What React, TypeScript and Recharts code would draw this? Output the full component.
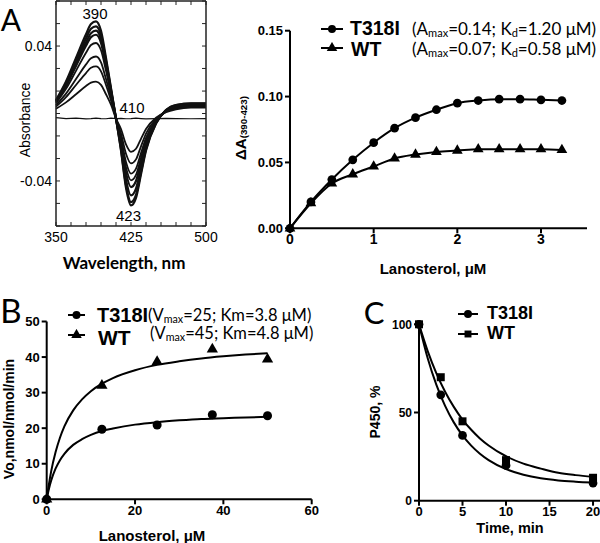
import React from 'react';
import { LineChart, Line, XAxis, YAxis, ComposedChart, Scatter, Symbols, ReferenceDot } from 'recharts';

// ---------- Panel A (left): difference spectra ----------
const wavelengths = [350, 360, 370, 380, 385, 390, 395, 400, 405, 410, 415, 420, 425, 430, 435, 440, 450, 460, 470, 485, 500];
const spec1 = [0.008, 0.019, 0.033, 0.047, 0.053, 0.0546, 0.049, 0.033, 0.015, -0.003, -0.022, -0.044, -0.0545, -0.05, -0.036, -0.022, -0.006, 0.002, 0.005, 0.006, 0.006];
const spec2 = [0.0075, 0.018, 0.0313, 0.0445, 0.0502, 0.0517, 0.0464, 0.0313, 0.0142, -0.003, -0.0212, -0.0424, -0.0525, -0.0482, -0.0347, -0.0212, -0.0058, 0.002, 0.005, 0.0058, 0.0058];
const spec3 = [0.0072, 0.0171, 0.0297, 0.0423, 0.0476, 0.0491, 0.0441, 0.0297, 0.0135, -0.003, -0.0196, -0.0392, -0.0485, -0.0445, -0.032, -0.0196, -0.0053, 0.0018, 0.0045, 0.0055, 0.0055];
const spec4 = [0.0068, 0.0162, 0.0282, 0.0402, 0.0453, 0.0467, 0.0419, 0.0282, 0.0128, -0.003, -0.0176, -0.0352, -0.0436, -0.04, -0.0288, -0.0176, -0.0048, 0.0016, 0.0042, 0.005, 0.005];
const spec5 = [0.0061, 0.0146, 0.0253, 0.036, 0.0406, 0.0418, 0.0375, 0.0253, 0.0115, -0.003, -0.016, -0.032, -0.0396, -0.0364, -0.0262, -0.016, -0.0044, 0.0015, 0.004, 0.0048, 0.0048];
const spec6 = [0.005, 0.0118, 0.0204, 0.0291, 0.0328, 0.0338, 0.0303, 0.0204, 0.0093, -0.003, -0.0144, -0.0287, -0.0356, -0.0327, -0.0235, -0.0144, -0.0039, 0.0013, 0.0035, 0.0045, 0.0045];
const spec7 = [0.0041, 0.0097, 0.0169, 0.024, 0.0271, 0.0279, 0.025, 0.0169, 0.0077, -0.003, -0.0119, -0.0239, -0.0296, -0.0272, -0.0195, -0.0119, -0.0033, 0.0011, 0.003, 0.004, 0.004];
const spec8 = [0.0028, 0.0066, 0.0114, 0.0163, 0.0183, 0.0189, 0.017, 0.0114, 0.0052, -0.003, -0.0092, -0.0183, -0.0227, -0.0209, -0.015, -0.0092, -0.0025, 0.0008, 0.0025, 0.0035, 0.0035];
const specBase = [-0.0025, -0.003, -0.0028, -0.0032, -0.003, -0.0027, -0.003, -0.0031, -0.0028, -0.003, -0.0029, -0.0031, -0.003, -0.0028, -0.003, -0.0032, -0.003, -0.0029, -0.003, -0.0031, -0.003];
const spectra = [spec1, spec2, spec3, spec4, spec5, spec6, spec7, spec8];
const specXTicks = [350, 365, 380, 395, 410, 425, 440, 455, 470, 485, 500];
const specXLabels = [350, 425, 500];
const specYTicks = [-0.0667, -0.0533, -0.04, -0.0267, -0.0133, 0, 0.0133, 0.0267, 0.04, 0.0533, 0.0667];
const specYLabels = [0.04, -0.04];

// ---------- Panel A (right): binding titration ----------
const lanoA = [0, 0.25, 0.5, 0.75, 1, 1.25, 1.5, 1.75, 2, 2.25, 2.5, 2.75, 3, 3.25];
const bindT318I = [0, 0.02, 0.037, 0.052, 0.065, 0.076, 0.084, 0.09, 0.095, 0.097, 0.098, 0.098, 0.0975, 0.097];
const bindWT = [0, 0.019, 0.034, 0.041, 0.047, 0.053, 0.056, 0.058, 0.059, 0.06, 0.06, 0.06, 0.06, 0.0595];
const aXTicks = [0, 1, 2, 3];
const aYTicks = [0, 0.05, 0.1, 0.15];

// ---------- Panel B: kinetics ----------
const lanoB = [0, 12.5, 25, 37.5, 50];
const voT318I = [0, 19.7, 20.9, 23.8, 23.5];
const voWT = [0, 32, 38.7, 42.2, 39.4];
const fitBX = [0, 0.5, 1, 2, 3, 4, 6, 8, 10, 12.5, 15, 20, 25, 30, 35, 40, 45, 50];
const fitBT318I = [0, 2.9, 5.2, 8.6, 11.0, 12.8, 15.3, 16.9, 18.1, 19.2, 19.9, 21.0, 21.7, 22.2, 22.6, 22.8, 23.0, 23.2];
const fitBWT = [0, 4.2, 7.8, 13.2, 17.3, 20.5, 25.0, 28.1, 30.4, 32.5, 34.1, 36.3, 37.8, 38.8, 39.6, 40.2, 40.7, 41.1];
const bXTicks = [0, 20, 40, 60];
const bYTicks = [0, 10, 20, 30, 40, 50];

// ---------- Panel C: P450 decay ----------
const timeC = [0, 2.5, 5, 10, 20];
const p450T318I = [100, 60, 37, 20, 10];
const p450WT = [100, 70, 45, 23, 13];
const fitCX = [0, 1, 2, 3, 4, 5, 6, 7, 8, 10, 12, 14, 16, 18, 20];
const fitCT318I = [100, 80.8, 65.7, 53.8, 44.4, 37, 31.2, 26.6, 23.0, 17.9, 14.7, 12.7, 11.5, 10.8, 10.3];
const fitCWT = [100, 84.8, 72.2, 61.8, 53.2, 46.0, 40.2, 35.3, 31.3, 25.2, 21.0, 18.2, 15.8, 14.5, 13.6];
const cXTicks = [0, 5, 10, 15, 20];
const cYTicks = [0, 50, 100];

const ARIAL = '"Liberation Sans", Arial, sans-serif';
const CALIBRI = 'Lato, "Open Sans", sans-serif';

const specData = wavelengths.map((w, i) => {
  const row: any = { w, base: specBase[i] };
  spectra.forEach((s, k) => { row['s' + k] = s[i]; });
  return row;
});
const bindData = lanoA.map((x, i) => ({ x, t: bindT318I[i], wt: bindWT[i] }));
const toXY = (xs: number[], ys: number[]) => xs.map((x, i) => ({ x, y: ys[i] }));

// centered text
const Txt = ({ x, y, rot = 0, style, children }: any) => (
  <div style={{ position: 'absolute', left: x, top: y, transform: `translate(-50%,-50%) rotate(${rot}deg)`, whiteSpace: 'nowrap', lineHeight: 1, color: '#000', ...style }}>
    {children}
  </div>
);
// left-aligned text, vertically centered at y
const LTxt = ({ x, y, style, children }: any) => (
  <div style={{ position: 'absolute', left: x, top: y, transform: 'translateY(-50%)', whiteSpace: 'nowrap', lineHeight: 0.85, color: '#000', ...style }}>
    {children}
  </div>
);

const Icon = ({ x, y, w, type }: any) => (
  <svg width={w} height={12} style={{ position: 'absolute', left: x, top: y - 6, display: 'block' }}>
    <line x1={0} y1={6} x2={w} y2={6} stroke="#000" strokeWidth={2} />
    <Symbols cx={w / 2} cy={6} type={type} size={type === 'circle' ? 50 : 48} fill="#000" />
  </svg>
);

const dotOf = (type: string, size: number) => (p: any) => (
  <Symbols key={`${type}-${p.index}`} cx={p.cx} cy={p.cy} type={type as any} size={size} fill="#000" stroke="none" />
);

const boldTick = (size: number) => ({ fontSize: size, fontWeight: 'bold', fill: '#000', fontFamily: ARIAL });

const Sub = ({ children }: any) => <sub style={{ fontSize: '0.65em', verticalAlign: '-0.2em', lineHeight: 0 }}>{children}</sub>;

const legBold = (size: number) => ({ fontFamily: ARIAL, fontWeight: 'bold', fontSize: size });
const legNote = (size: number) => ({ fontFamily: CALIBRI, fontSize: size });

export default function App() {
  return (
    <div style={{ position: 'fixed', left: 0, top: 0, width: 600, height: 543, background: '#fff', overflow: 'hidden' }}>
      {/* Panel A left */}
      <div style={{ position: 'absolute', left: 0, top: 0 }}>
        <LineChart width={220} height={280} data={specData} margin={{ top: 0, right: 13, bottom: 24, left: 10 }}>
          <XAxis xAxisId="b" dataKey="w" type="number" domain={[350, 500]} ticks={specXTicks} orientation="bottom" height={30}
            tickSize={-4} tickMargin={10} interval={0}
            tickFormatter={(v: number) => (specXLabels.includes(v) ? String(v) : '')}
            axisLine={{ stroke: '#222', strokeWidth: 1.5 }} tickLine={{ stroke: '#222' }}
            tick={{ fontSize: 14, fill: '#000', fontFamily: ARIAL }} />
          <XAxis xAxisId="t" dataKey="w" type="number" domain={[350, 500]} ticks={specXTicks} orientation="top" height={1}
            tickSize={-4} interval={0} tickFormatter={() => ''}
            axisLine={{ stroke: '#222', strokeWidth: 1.5 }} tickLine={{ stroke: '#222' }} />
          <YAxis yAxisId="l" type="number" domain={[-0.0667, 0.0667]} ticks={specYTicks} width={46} interval={0}
            tickSize={-4} tickMargin={8}
            tickFormatter={(v: number) => (specYLabels.includes(v) ? String(v) : '')}
            axisLine={{ stroke: '#222', strokeWidth: 1.5 }} tickLine={{ stroke: '#222' }}
            tick={{ fontSize: 14, fill: '#000', fontFamily: ARIAL }} />
          <YAxis yAxisId="r" orientation="right" type="number" domain={[-0.0667, 0.0667]} ticks={specYTicks} width={1} interval={0}
            tickSize={-4} tickFormatter={() => ''}
            axisLine={{ stroke: '#222', strokeWidth: 1.5 }} tickLine={{ stroke: '#222' }} />
          <Line xAxisId="t" yAxisId="r" dataKey="base" stroke="none" dot={false} isAnimationActive={false} />
          <Line xAxisId="b" yAxisId="l" dataKey="base" type="linear" stroke="#111" strokeWidth={1.2} dot={false} isAnimationActive={false} />
          {spectra.map((_, k) => (
            <Line key={k} xAxisId="b" yAxisId="l" dataKey={'s' + k} type="monotone" stroke="#111"
              strokeWidth={k < 4 ? 2.2 : 1.8} dot={false} isAnimationActive={false} />
          ))}
          <ReferenceDot xAxisId="b" yAxisId="l" x={389} y={0.059} r={0} fill="none" stroke="none"
            label={{ value: '390', position: 'center', fontSize: 15, fill: '#000', fontFamily: ARIAL }} />
          <ReferenceDot xAxisId="b" yAxisId="l" x={426} y={0.0035} r={0} fill="none" stroke="none"
            label={{ value: '410', position: 'center', fontSize: 15, fill: '#000', fontFamily: ARIAL }} />
          <ReferenceDot xAxisId="b" yAxisId="l" x={422.5} y={-0.0605} r={0} fill="none" stroke="none"
            label={{ value: '423', position: 'center', fontSize: 15, fill: '#000', fontFamily: ARIAL }} />
        </LineChart>
      </div>

      {/* Panel A right */}
      <div style={{ position: 'absolute', left: 230, top: 20 }}>
        <LineChart width={370} height={260} data={bindData} margin={{ top: 10.7, right: 13, bottom: 21.7, left: 10 }}>
          <XAxis dataKey="x" type="number" domain={[0, 3.55]} ticks={aXTicks} height={30} tickSize={5} tickMargin={1}
            axisLine={{ stroke: '#000', strokeWidth: 2 }} tickLine={{ stroke: '#000', strokeWidth: 2 }} tick={boldTick(14)} />
          <YAxis type="number" domain={[0, 0.15]} ticks={aYTicks} width={50} tickSize={5} tickMargin={2}
            tickFormatter={(v: number) => v.toFixed(2)}
            axisLine={{ stroke: '#000', strokeWidth: 2 }} tickLine={{ stroke: '#000', strokeWidth: 2 }} tick={boldTick(13)} />
          <Line dataKey="t" type="monotone" stroke="#000" strokeWidth={2} dot={dotOf('circle', 60)} isAnimationActive={false} />
          <Line dataKey="wt" type="monotone" stroke="#000" strokeWidth={2} dot={dotOf('triangle', 50)} isAnimationActive={false} />
        </LineChart>
      </div>

      {/* Panel B */}
      <div style={{ position: 'absolute', left: 0, top: 310 }}>
        <ComposedChart width={330} height={233} margin={{ top: 11.5, right: 18.3, bottom: 13.7, left: 10 }}>
          <XAxis dataKey="x" type="number" domain={[0, 60]} ticks={bXTicks} height={30} tickSize={5} tickMargin={1}
            axisLine={{ stroke: '#000', strokeWidth: 2 }} tickLine={{ stroke: '#000', strokeWidth: 2 }} tick={boldTick(13)} />
          <YAxis dataKey="y" type="number" domain={[0, 50]} ticks={bYTicks} width={36.7} tickSize={5} tickMargin={2}
            axisLine={{ stroke: '#000', strokeWidth: 2 }} tickLine={{ stroke: '#000', strokeWidth: 2 }} tick={boldTick(13)} />
          <Line data={toXY(fitBX, fitBT318I)} dataKey="y" type="monotone" stroke="#000" strokeWidth={2} dot={false} isAnimationActive={false} />
          <Line data={toXY(fitBX, fitBWT)} dataKey="y" type="monotone" stroke="#000" strokeWidth={2} dot={false} isAnimationActive={false} />
          <Scatter data={toXY(lanoB, voT318I)} dataKey="y" shape={(p: any) => <Symbols cx={p.cx} cy={p.cy} type="circle" size={64} fill="#000" />} isAnimationActive={false} />
          <Scatter data={toXY(lanoB, voWT)} dataKey="y" shape={(p: any) => <Symbols cx={p.cx} cy={p.cy} type="triangle" size={55} fill="#000" />} isAnimationActive={false} />
        </ComposedChart>
      </div>

      {/* Panel C */}
      <div style={{ position: 'absolute', left: 380, top: 310 }}>
        <ComposedChart width={220} height={233} margin={{ top: 14.3, right: 0, bottom: 17.3, left: 5 }}>
          <XAxis dataKey="x" type="number" domain={[0, 20.8]} ticks={cXTicks} height={25} tickSize={5} tickMargin={1}
            axisLine={{ stroke: '#000', strokeWidth: 2 }} tickLine={{ stroke: '#000', strokeWidth: 2 }} tick={boldTick(13)} />
          <YAxis dataKey="y" type="number" domain={[0, 100]} ticks={cYTicks} width={34} tickSize={5} tickMargin={2}
            axisLine={{ stroke: '#000', strokeWidth: 2 }} tickLine={{ stroke: '#000', strokeWidth: 2 }} tick={boldTick(12)} />
          <Line data={toXY(fitCX, fitCT318I)} dataKey="y" type="monotone" stroke="#000" strokeWidth={2} dot={false} isAnimationActive={false} />
          <Line data={toXY(fitCX, fitCWT)} dataKey="y" type="monotone" stroke="#000" strokeWidth={2} dot={false} isAnimationActive={false} />
          <Scatter data={toXY(timeC, p450T318I)} dataKey="y" shape={(p: any) => <Symbols cx={p.cx} cy={p.cy} type="circle" size={60} fill="#000" />} isAnimationActive={false} />
          <Scatter data={toXY(timeC, p450WT)} dataKey="y" shape={(p: any) => <Symbols cx={p.cx} cy={p.cy} type="square" size={64} fill="#000" />} isAnimationActive={false} />
        </ComposedChart>
      </div>

      {/* Panel letters */}
      <Txt x={11} y={19} style={{ fontFamily: CALIBRI, fontSize: 30 }}>A</Txt>
      <Txt x={11} y={310} style={{ fontFamily: CALIBRI, fontSize: 33 }}>B</Txt>
      <Txt x={374} y={312} style={{ fontFamily: CALIBRI, fontSize: 31 }}>C</Txt>

      {/* Axis titles */}
      <Txt x={25} y={120} rot={-90} style={{ fontFamily: ARIAL, fontSize: 14 }}>Absorbance</Txt>
      <Txt x={124} y={262} style={{ fontFamily: CALIBRI, fontSize: 17, fontWeight: 'bold' }}>Wavelength, nm</Txt>

      <Txt x={240} y={128} rot={-90} style={{ fontFamily: ARIAL, fontSize: 15, fontWeight: 'bold' }}>
        ΔA<Sub>(390-423)</Sub>
      </Txt>
      <Txt x={433} y={268} style={{ fontFamily: ARIAL, fontSize: 15, fontWeight: 'bold' }}>Lanosterol, μM</Txt>

      <Txt x={9} y={419} rot={-90} style={{ fontFamily: ARIAL, fontSize: 14, fontWeight: 'bold' }}>Vo,nmol/nmol/min</Txt>
      <Txt x={152} y={535} style={{ fontFamily: ARIAL, fontSize: 15, fontWeight: 'bold' }}>Lanosterol, μM</Txt>

      <Txt x={375} y={412} rot={-90} style={{ fontFamily: ARIAL, fontSize: 14, fontWeight: 'bold' }}>P450, %</Txt>
      <Txt x={510} y={528} style={{ fontFamily: ARIAL, fontSize: 14.5, fontWeight: 'bold' }}>Time, min</Txt>

      {/* Legend A */}
      <Icon x={321} y={28.5} w={22} type="circle" />
      <LTxt x={350} y={28} style={legBold(19.5)}>T318I</LTxt>
      <LTxt x={412} y={29} style={legNote(17)}>(A<Sub>max</Sub>=0.14; K<Sub>d</Sub>=1.20 μM)</LTxt>
      <Icon x={321} y={48} w={22} type="triangle" />
      <LTxt x={351} y={48.5} style={legBold(19.5)}>WT</LTxt>
      <LTxt x={412} y={48.5} style={legNote(17)}>(A<Sub>max</Sub>=0.07; K<Sub>d</Sub>=0.58 μM)</LTxt>

      {/* Legend B */}
      <Icon x={68} y={315} w={17} type="circle" />
      <LTxt x={97} y={315} style={legBold(20)}>T318I</LTxt>
      <LTxt x={148} y={315} style={legNote(16.5)}>(V<Sub>max</Sub>=25; Km=3.8 μM)</LTxt>
      <Icon x={68} y={335} w={17} type="triangle" />
      <LTxt x={98} y={338} style={legBold(21)}>WT</LTxt>
      <LTxt x={150} y={333} style={legNote(16.5)}>(V<Sub>max</Sub>=45; Km=4.8 μM)</LTxt>

      {/* Legend C */}
      <Icon x={458} y={314} w={20} type="circle" />
      <LTxt x={487} y={314} style={legBold(18)}>T318I</LTxt>
      <Icon x={458} y={334} w={20} type="square" />
      <LTxt x={487} y={334} style={legBold(18)}>WT</LTxt>
    </div>
  );
}
